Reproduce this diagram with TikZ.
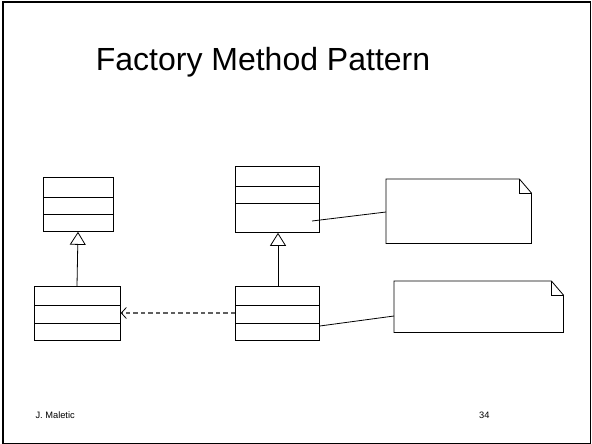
\documentclass[tikz,border=0pt]{standalone}
\usepackage{fontspec}
\setmainfont{Liberation Sans}
\usetikzlibrary{arrows.meta}
\usetikzlibrary{calc}
\tikzset{>=latex}
\definecolor{dashgray}{RGB}{95,95,95}
\tikzstyle{classbox}=[draw,line width=0.8pt,inner sep=0pt,anchor=north west]
\tikzstyle{notebox}=[inner sep=0pt,anchor=north west]
\tikzstyle{inherit}=[line width=0.8pt,-{Triangle[open,length=13pt,width=16pt]}]
\tikzstyle{depend}=[draw=dashgray,line width=1.2pt,dash pattern=on 4.5pt off 3pt,
  -{Straight Barb[length=5pt,width=11pt,line width=0.8pt,color=black]}]

\begin{document}
\begin{tikzpicture}[x=1pt,y=-1pt]
    \useasboundingbox (0,0) rectangle (592,444);
    % slide frame
    \draw[line width=0.8pt] (3,2.5) rectangle (590.5,443.5);
    \draw[line width=2pt] (3,443.5) -- (3,2.5) -- (590.5,2.5);

    \node (title) at (263,62) {\fontsize{32}{38}\selectfont Factory Method Pattern};

    % classes
    \node[classbox,minimum width=70pt,minimum height=54pt] (product) at (43,177) {};
    \draw[line width=0.8pt] ($(product.north west)+(0,20)$) -- ($(product.north east)+(0,20)$);
    \draw[line width=0.8pt] ($(product.north west)+(0,37)$) -- ($(product.north east)+(0,37)$);

    \node[classbox,minimum width=86pt,minimum height=54pt] (concprod) at (34,286) {};
    \draw[line width=0.8pt] ($(concprod.north west)+(0,19)$) -- ($(concprod.north east)+(0,19)$);
    \draw[line width=0.8pt] ($(concprod.north west)+(0,37)$) -- ($(concprod.north east)+(0,37)$);

    \node[classbox,minimum width=84pt,minimum height=66pt] (creator) at (235,166) {};
    \draw[line width=0.8pt] ($(creator.north west)+(0,20)$) -- ($(creator.north east)+(0,20)$);
    \draw[line width=0.8pt] ($(creator.north west)+(0,37)$) -- ($(creator.north east)+(0,37)$);

    \node[classbox,minimum width=84pt,minimum height=54pt] (conccreator) at (235,286) {};
    \draw[line width=0.8pt] ($(conccreator.north west)+(0,19)$) -- ($(conccreator.north east)+(0,19)$);
    \draw[line width=0.8pt] ($(conccreator.north west)+(0,37)$) -- ($(conccreator.north east)+(0,37)$);

    % notes
    \node[notebox,minimum width=145pt,minimum height=64pt] (note1) at (386,179) {};
    \draw[line width=0.8pt] (note1.north west) -- ($(note1.north east)+(-12,0)$)
      -- ($(note1.north east)+(0,14)$) -- (note1.south east) -- (note1.south west) -- cycle;
    \draw[line width=0.8pt] ($(note1.north east)+(-12,0)$) -- ($(note1.north east)+(-12,14)$)
      -- ($(note1.north east)+(0,14)$);

    \node[notebox,minimum width=169pt,minimum height=51pt] (note2) at (394,281) {};
    \draw[line width=0.8pt] (note2.north west) -- ($(note2.north east)+(-12,0)$)
      -- ($(note2.north east)+(0,14)$) -- (note2.south east) -- (note2.south west) -- cycle;
    \draw[line width=0.8pt] ($(note2.north east)+(-12,0)$) -- ($(note2.north east)+(-12,14)$)
      -- ($(note2.north east)+(0,14)$);

    % relations
    \draw[inherit] ($(concprod.north west)+(43,0)$) -- ($(product.south west)+(35,0)$);
    \draw[inherit] ($(conccreator.north west)+(43,0)$) -- ($(creator.south west)+(43,0)$);
    \draw[depend] ($(conccreator.north west)+(0,27)$) -- ($(concprod.north east)+(0,27)$);
    \coordinate (anchor1) at (312,221);
    \draw[line width=0.8pt] ($(note1.north west)+(0,33)$) -- (anchor1);
    \draw[line width=0.8pt] ($(note2.north west)+(0,35)$) -- ($(conccreator.north east)+(0,40)$);

    % footer
    \node[anchor=west,font=\fontsize{9.3}{11}\selectfont] (author) at (32,415) {J. Maletic};
    \node[anchor=east,font=\fontsize{9.3}{11}\selectfont] (page) at (493,415) {34};
\end{tikzpicture}
\end{document}
